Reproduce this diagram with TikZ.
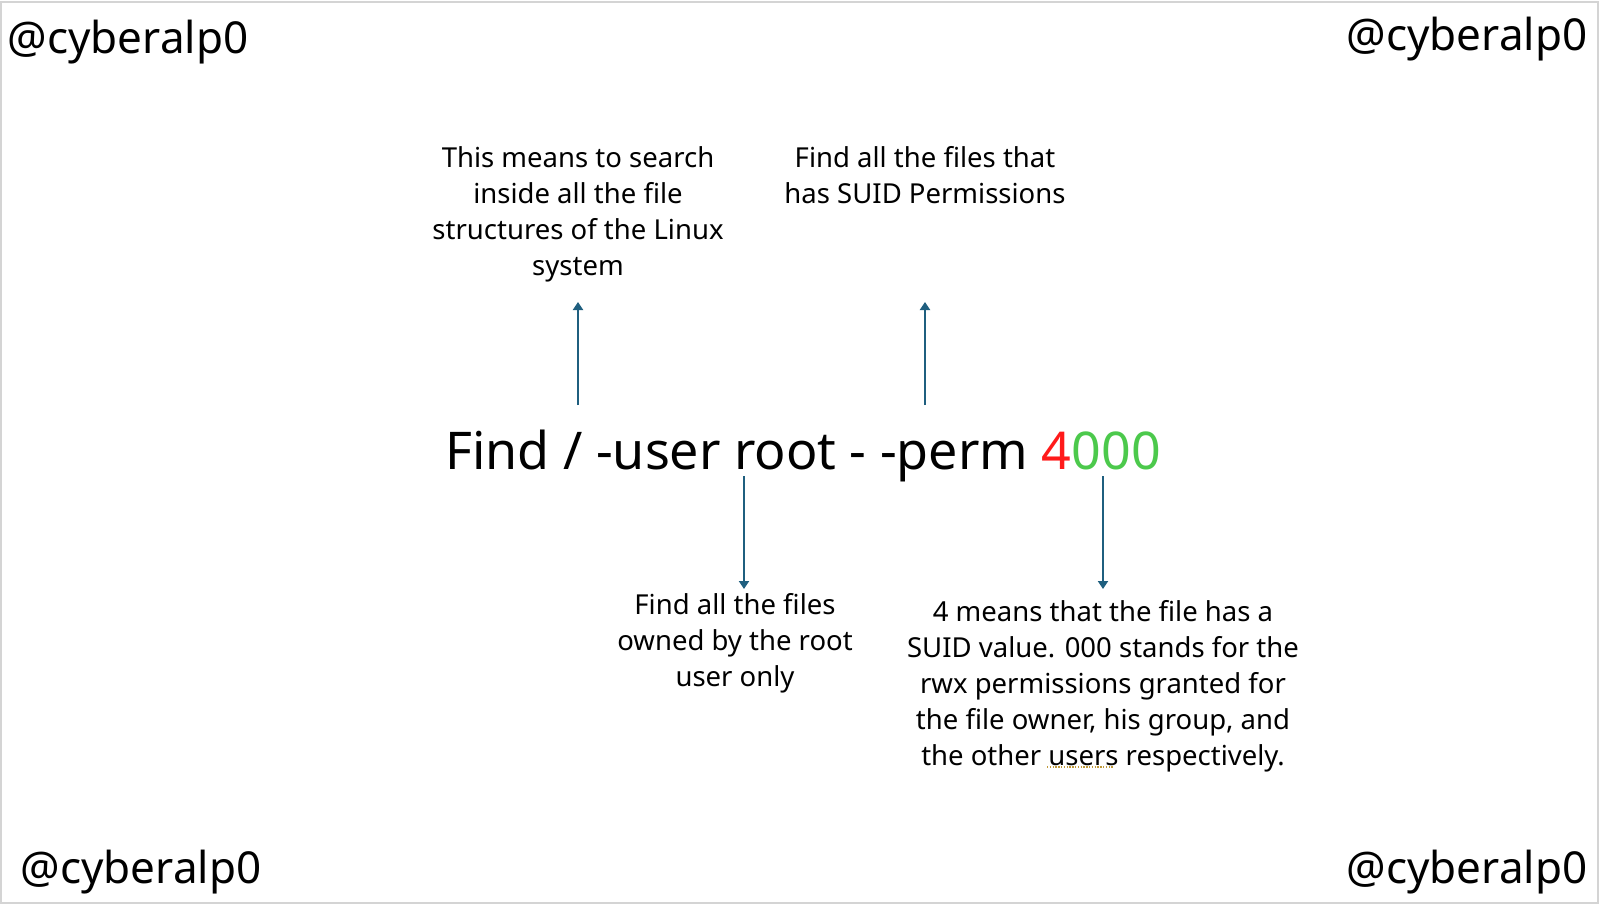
\documentclass[tikz,border=0pt]{standalone}
\usepackage{fontspec}
\setmainfont{Noto Sans}
\usetikzlibrary{arrows.meta}

\definecolor{arrowblue}{HTML}{1F5F7F}
\definecolor{permred}{HTML}{FF1A1A}
\definecolor{permgreen}{HTML}{4CC94C}
\definecolor{framegray}{HTML}{D4D4D4}
\definecolor{spellgold}{HTML}{C09A3A}

\begin{document}
\begin{tikzpicture}[x=1pt,y=-1pt]
  \tikzstyle{Mark}=[inner sep=0pt,font=\fontsize{44}{54}\selectfont]
  \tikzstyle{Note}=[inner sep=0pt,align=center,font=\fontsize{27.5}{36}\selectfont]
  \tikzstyle{Pointer}=[draw=arrowblue,line width=2.4pt,-{Triangle[width=10pt,length=8pt]}]
  \useasboundingbox (0,0) rectangle (1600,908);
  \draw[framegray,line width=2pt] (1,2) rectangle (1598,903);
  % watermarks
  \node[Mark] (markNW) at (128,42) {@cyberalp0};
  \node[Mark] (markNE) at (1467,39) {@cyberalp0};
  \node[Mark] (markSW) at (141,872) {@cyberalp0};
  \node[Mark] (markSE) at (1467,872) {@cyberalp0};
  % command
  \node[inner sep=0pt,font=\fontsize{52}{64}\selectfont] (cmd) at (803,456)
    {Find / -user root - -perm {\color{permred}4}{\color{permgreen}000}};
  % notes
  \node[Note] (root) at (578,214)
    {This means to search\\inside all the file\\structures of the Linux\\system};
  \node[Note] (suid) at (925,175)
    {Find all the files that\\has SUID Permissions};
  \node[Note] (user) at (735,643)
    {Find all the files\\owned by the root\\user only};
  \node[Note] (perm) at (1103,686)
    {4 means that the file has a\\SUID value. 000 stands for the\\rwx permissions granted for\\the file owner, his group, and\\the other users respectively.};
  % spelling mark under "users"
  \coordinate (spellA) at (1047,767);
  \coordinate (spellB) at (1114,767);
  \draw[spellgold,line width=1.4pt,dash pattern=on 1.4pt off 1.4pt] (spellA) -- (spellB);
  % pointers
  \coordinate (rootTail) at (578,405);
  \coordinate (rootHead) at (578,302);
  \coordinate (suidTail) at (925,405);
  \coordinate (suidHead) at (925,302);
  \coordinate (userTail) at (744,476);
  \coordinate (userHead) at (744,589);
  \coordinate (permTail) at (1103,476);
  \coordinate (permHead) at (1103,589);
  \draw[Pointer] (rootTail) -- (rootHead);
  \draw[Pointer] (suidTail) -- (suidHead);
  \draw[Pointer] (userTail) -- (userHead);
  \draw[Pointer] (permTail) -- (permHead);
\end{tikzpicture}
\end{document}
